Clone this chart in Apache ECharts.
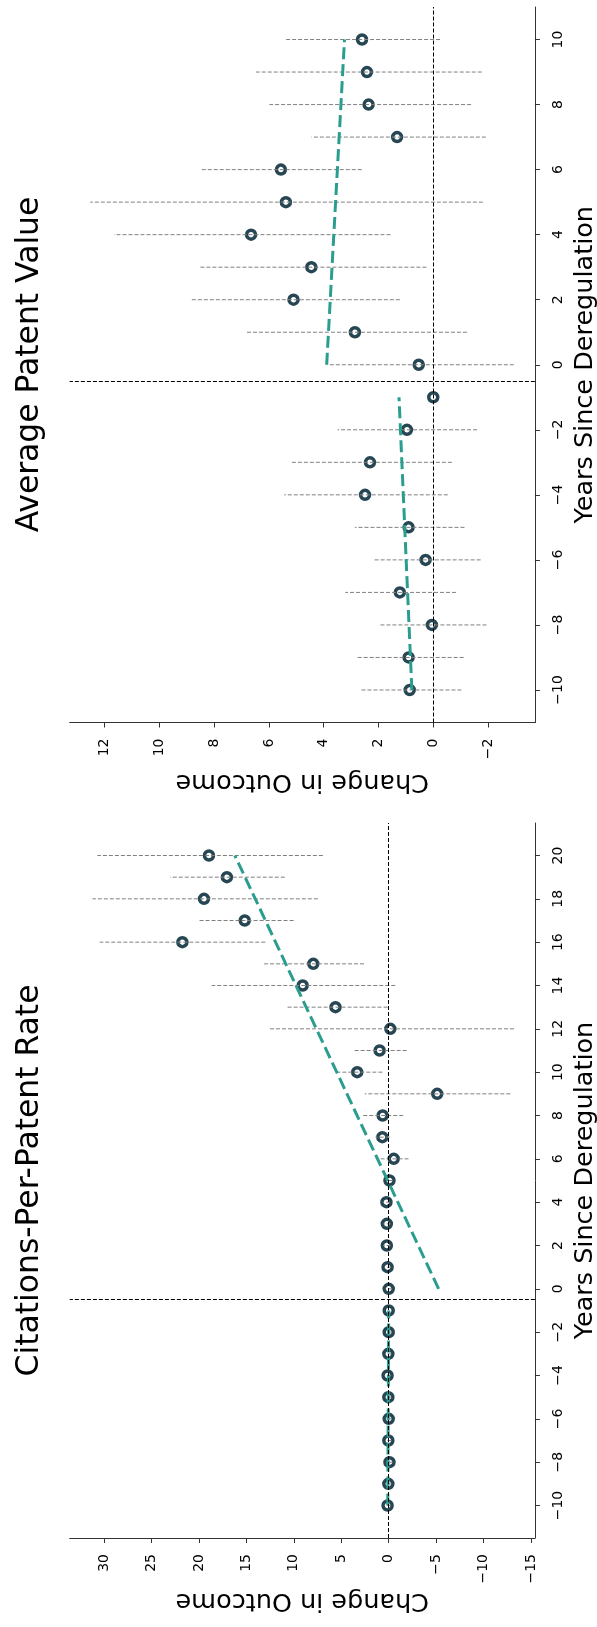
<!DOCTYPE html>
<html><head><meta charset="utf-8">
<script src="https://cdn.jsdelivr.net/npm/echarts@6/dist/echarts.min.js"></script>
<style>html,body{margin:0;padding:0;background:#fff}#c{width:597px;height:1627px}</style>
</head><body><div id="c"></div>
<script>
// ---------- Average Patent Value ----------
const valueYears = [-10,-9,-8,-7,-6,-5,-4,-3,-2,-1,0,1,2,3,4,5,6,7,8,9,10];
const valueCoef  = [0.86,0.90,0.05,1.22,0.28,0.90,2.49,2.31,0.96,0.00,0.53,2.86,5.10,4.45,6.65,5.38,5.56,1.32,2.36,2.42,2.60];
const valueLow   = [-1.03,-1.11,-1.94,-0.83,-1.73,-1.14,-0.53,-0.68,-1.60,0.00,-2.94,-1.23,1.22,0.25,1.56,-1.81,2.61,-1.92,-1.38,-1.77,-0.25];
const valueHigh  = [2.63,2.78,1.96,3.21,2.19,2.86,5.44,5.21,3.49,0.00,3.86,6.84,8.84,8.51,11.65,12.52,8.48,4.45,5.98,6.47,5.38];
const valueTrendPreYears  = [-10,-1];
const valueTrendPre       = [0.78,1.25];
const valueTrendPostYears = [0,10];
const valueTrendPost      = [3.89,3.24];
const valueOutcomeTicks = [-2,0,2,4,6,8,10,12];
const valueYearTicks    = [-10,-8,-6,-4,-2,0,2,4,6,8,10];

// ---------- Citations-Per-Patent Rate ----------
const citeYears = [-10,-9,-8,-7,-6,-5,-4,-3,-2,-1,0,1,2,3,4,5,6,7,8,9,10,11,12,13,14,15,16,17,18,19,20];
const citeCoef  = [0.12,0.04,-0.08,0.04,0.00,0.04,0.12,0.04,0.00,0.00,0.00,0.12,0.20,0.20,0.24,-0.08,-0.53,0.67,0.64,-5.11,3.32,0.96,-0.17,5.61,9.07,7.95,21.75,15.18,19.47,17.06,18.95];
const citeLow   = [-0.25,-0.3,-0.4,-0.3,-0.35,-0.3,-0.25,-0.3,-0.3,0.00,-0.35,-0.25,-0.2,-0.2,-0.15,-0.45,-2.09,-0.10,-1.53,-12.82,0.67,-1.89,-13.21,0.12,-0.69,2.60,13.01,10.03,7.47,10.96,6.94];
const citeHigh  = [0.45,0.35,0.25,0.4,0.35,0.4,0.45,0.4,0.3,0.00,0.35,0.5,0.6,0.6,0.65,0.3,0.84,1.40,2.77,2.53,5.66,3.65,12.65,10.76,18.67,13.13,30.47,20.03,31.23,23.04,30.72];
const citeTrendPreYears  = [-10,-1];
const citeTrendPre       = [0.10,0.00];
const citeTrendPostYears = [0,20];
const citeTrendPost      = [-5.26,16.22];
const citeOutcomeTicks = [-15,-10,-5,0,5,10,15,20,25,30];
const citeYearTicks    = [-10,-8,-6,-4,-2,0,2,4,6,8,10,12,14,16,18,20];

const FONT = 'DejaVu Sans';
const AXIS_COLOR = '#333';
const MARK = '#264653';
const TREND = '#2a9d8f';
const fmt = v => String(v).replace('-', '\u2212');

function axesFor(g, outMin, outMax, outTicks, yrMin, yrMax, yrTicks) {
  const xAxis = {
    gridIndex: g, type: 'value', inverse: true, min: outMin, max: outMax, position: 'bottom',
    splitLine: {show: false},
    axisLine: {show: true, onZero: false, lineStyle: {color: AXIS_COLOR, width: 1}},
    axisTick: {show: true, length: 5, customValues: outTicks, lineStyle: {color: AXIS_COLOR}},
    axisLabel: {rotate: 90, margin: 16, customValues: outTicks, formatter: fmt,
      fontFamily: FONT, fontSize: 14, color: '#000'},
    name: 'Change in Outcome', nameLocation: 'middle', nameRotate: 180, nameGap: 46,
    nameTextStyle: {fontFamily: FONT, fontSize: 25.5, color: '#000'}
  };
  const yAxis = {
    gridIndex: g, type: 'value', min: yrMin, max: yrMax, position: 'right',
    splitLine: {show: false},
    axisLine: {show: true, onZero: false, lineStyle: {color: AXIS_COLOR, width: 1}},
    axisTick: {show: true, length: 5, customValues: yrTicks, lineStyle: {color: AXIS_COLOR}},
    axisLabel: {rotate: 90, margin: 16, customValues: yrTicks, formatter: fmt,
      fontFamily: FONT, fontSize: 14, color: '#000'},
    name: 'Years Since Deregulation', nameLocation: 'middle', nameRotate: 90, nameGap: 33,
    nameTextStyle: {fontFamily: FONT, fontSize: 25.5, color: '#000'}
  };
  return [xAxis, yAxis];
}

function seriesFor(g, years, coef, low, high, preY, pre, postY, post) {
  const bars = [];
  years.forEach((y, i) => { if (low[i] !== high[i]) bars.push([y, low[i], high[i]]); });
  return [
    {
      type: 'custom', xAxisIndex: g, yAxisIndex: g, z: 3, silent: true,
      encode: {x: [1, 2], y: 0},
      data: bars,
      renderItem: (params, api) => {
        const yr = api.value(0);
        const p1 = api.coord([api.value(1), yr]);
        const p2 = api.coord([api.value(2), yr]);
        return {type: 'line', shape: {x1: p1[0], y1: p1[1], x2: p2[0], y2: p2[1]},
          style: {stroke: '#808080', lineWidth: 1, lineDash: [4, 2]}};
      }
    },
    {
      type: 'scatter', xAxisIndex: g, yAxisIndex: g, z: 2, silent: true,
      symbol: 'circle', symbolSize: 9,
      itemStyle: {color: '#fff', borderColor: MARK, borderWidth: 3.5, opacity: 1},
      data: years.map((y, i) => [coef[i], y])
    },
    {
      type: 'line', xAxisIndex: g, yAxisIndex: g, z: 4, silent: true, symbol: 'none',
      lineStyle: {color: TREND, width: 3, type: [12, 5]},
      data: preY.map((y, i) => [pre[i], y]),
      markLine: {
        silent: true, symbol: ['none', 'none'], label: {show: false}, animation: false,
        lineStyle: {color: '#000', width: 1, type: [4, 2]},
        data: [{xAxis: 0}, {yAxis: -0.5}]
      }
    },
    {
      type: 'line', xAxisIndex: g, yAxisIndex: g, z: 4, silent: true, symbol: 'none',
      lineStyle: {color: TREND, width: 3, type: [12, 5]},
      data: postY.map((y, i) => [post[i], y])
    }
  ];
}

const [x0, y0] = axesFor(0, -3.71, 13.27, valueOutcomeTicks, -11, 11, valueYearTicks);
const [x1, y1] = axesFor(1, -15.41, 33.63, citeOutcomeTicks, -11.5, 21.5, citeYearTicks);

const option = {
  animation: false,
  backgroundColor: '#fff',
  grid: [
    {left: 69.7, top: 7, width: 465.2, height: 715.5, containLabel: false, outerBoundsMode: 'none'},
    {left: 69.7, top: 823, width: 465.2, height: 715, containLabel: false, outerBoundsMode: 'none'}
  ],
  xAxis: [x0, x1],
  yAxis: [y0, y1],
  graphic: [
    {type: 'text', x: 30, y: 364.5, rotation: Math.PI / 2,
      style: {text: 'Average Patent Value', font: '31.4px "DejaVu Sans"', fill: '#000',
        textAlign: 'center', textVerticalAlign: 'middle'}},
    {type: 'text', x: 30, y: 1180.5, rotation: Math.PI / 2,
      style: {text: 'Citations-Per-Patent Rate', font: '31.4px "DejaVu Sans"', fill: '#000',
        textAlign: 'center', textVerticalAlign: 'middle'}}
  ],
  series: [
    ...seriesFor(0, valueYears, valueCoef, valueLow, valueHigh, valueTrendPreYears, valueTrendPre, valueTrendPostYears, valueTrendPost),
    ...seriesFor(1, citeYears, citeCoef, citeLow, citeHigh, citeTrendPreYears, citeTrendPre, citeTrendPostYears, citeTrendPost)
  ]
};
const chart = echarts.init(document.getElementById('c'));
chart.setOption(option);
</script></body></html>
